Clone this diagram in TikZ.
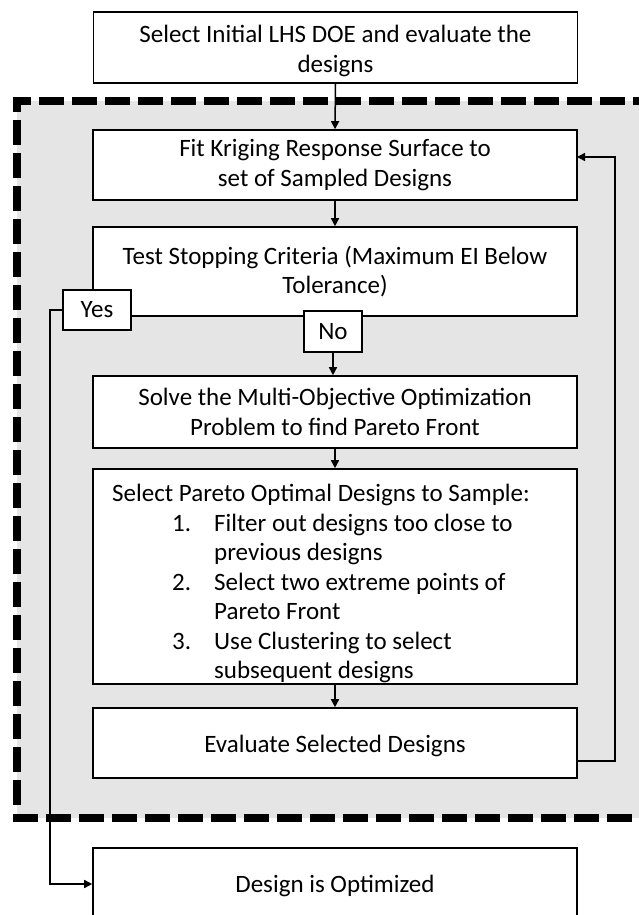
\documentclass[tikz,border=0pt]{standalone}
\usepackage{fontspec}
\setmainfont{Carlito}
\usetikzlibrary{arrows.meta}
\begin{document}
\begin{tikzpicture}[x=1pt,y=-1pt,
  box/.style={draw, line width=1.6pt, fill=white, inner sep=0pt,
    minimum width=484pt, align=center, font=\fontsize{25}{29.5}\selectfont},
  boxtext/.style={inner sep=0pt, align=center, font=\fontsize{25}{29.5}\selectfont},
  tag/.style={draw, line width=1.6pt, fill=white, inner sep=0pt,
    align=center, font=\fontsize{25}{29.5}\selectfont},
  link/.style={line width=1.5pt, -{Triangle[length=8pt,width=8pt]}}]
\useasboundingbox (0,0) rectangle (638,915);

% shaded loop region with thick dashed outline
\fill[black!10] (17,101) rectangle (680,818);
\draw[line width=7.5pt, dash pattern=on 25pt off 8pt]
  (17,805) -- (17,101) -- (680,101);
\draw[line width=7.5pt, dash pattern=on 25pt off 8pt]
  (13,818) -- (680,818);

% process boxes
\node[box, minimum height=71pt] (init) at (335.5,47.5) {};
\node[boxtext] (inittext) at (335.5,51)
  {Select Initial LHS DOE and evaluate the\\designs};
\node[box, minimum height=70pt] (fit) at (335,165)
  {Fit Kriging Response Surface to\\set of Sampled Designs};
\node[box, minimum height=89pt] (test) at (335,271.5)
  {Test Stopping Criteria (Maximum EI Below\\Tolerance)};
\node[box, minimum height=72pt] (solve) at (335,412)
  {Solve the Multi-Objective Optimization\\Problem to find Pareto Front};
\node[box, minimum height=215pt] (select) at (335,576.5) {};
\node[anchor=north west, inner sep=0pt, align=left,
  font=\fontsize{25}{29.5}\selectfont] (selecttext) at (112,484)
  {Select Pareto Optimal Designs to Sample:\\
   \hspace*{60pt}\makebox[42pt][l]{1.}Filter out designs too close to\\
   \hspace*{102pt}previous designs\\
   \hspace*{60pt}\makebox[42pt][l]{2.}Select two extreme points of\\
   \hspace*{102pt}Pareto Front\\
   \hspace*{60pt}\makebox[42pt][l]{3.}Use Clustering to select\\
   \hspace*{102pt}subsequent designs};
\node[box, minimum height=70pt] (eval) at (335,743) {};
\node[boxtext] (evaltext) at (335,746) {Evaluate Selected Designs};
\node[box, minimum height=72pt] (done) at (335,884) {};
\node[boxtext] (donetext) at (335,886) {Design is Optimized};

% decision labels
\node[tag, minimum width=68pt, minimum height=40pt] (yes) at (97,310) {Yes};
\node[tag, minimum width=58pt, minimum height=41pt] (no) at (333,331.5) {No};

% connectors
\draw[link] (init.south) -- (fit.north);
\draw[link] (fit.south) -- (test.north);
\draw[link] (no.south) -- (no.south |- solve.north);
\draw[link] (select.north |- solve.south) -- (select.north);
\draw[link] (select.south) -- (eval.north);

\coordinate (fbout) at (577,761);
\coordinate (fbin) at (577,157);
\draw[link] (fbout) -- (615,761) -- (615,157) -- (fbin);

\coordinate (yesturn) at (50,310);
\draw[link] (yes.west) -- (yesturn) |- (done.west);
\end{tikzpicture}
\end{document}
